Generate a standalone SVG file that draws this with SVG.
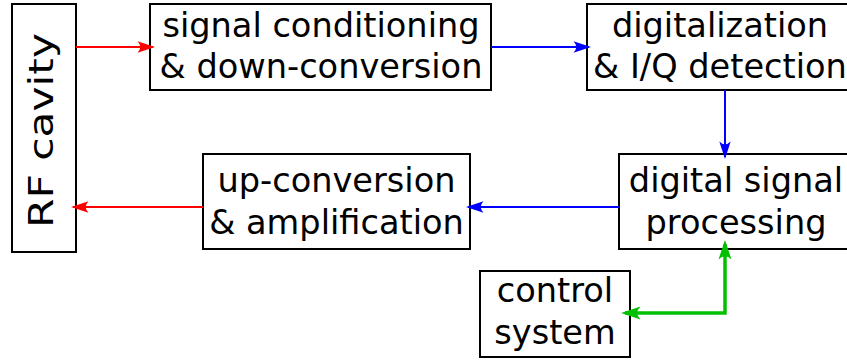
<svg xmlns="http://www.w3.org/2000/svg" width="847" height="360" viewBox="0 0 847 360">
<style>
.box{fill:#fff;stroke:#000;stroke-width:2}
.t{font-family:"DejaVu Sans",sans-serif;font-size:33.6px;fill:#000;text-anchor:middle}
.c{fill:none;stroke-width:2}
.g{fill:none;stroke-width:3.5}
</style>
<defs>
<marker id="ar" markerUnits="userSpaceOnUse" markerWidth="18" markerHeight="12" viewBox="0 0 18 12" refX="16" refY="6" orient="auto-start-reverse"><path d="M18,6 L0.5,0.3 Q6,6 0.5,11.7 Z" fill="#ff0000"/></marker>
<marker id="ab" markerUnits="userSpaceOnUse" markerWidth="18" markerHeight="12" viewBox="0 0 18 12" refX="16" refY="6" orient="auto-start-reverse"><path d="M18,6 L0.5,0.3 Q6,6 0.5,11.7 Z" fill="#0000ff"/></marker>
<marker id="ag" markerUnits="userSpaceOnUse" markerWidth="20" markerHeight="14" viewBox="0 0 20 14" refX="16" refY="7" orient="auto-start-reverse"><path d="M20,7 L0.5,0.5 Q7,7 0.5,13.5 Z" fill="#00c000"/></marker>
</defs>
<g id="rf"><rect class="box" x="12" y="4" width="64" height="248"/><text class="t" transform="translate(53,130.5) rotate(-90)" x="0" y="0" textLength="195" lengthAdjust="spacingAndGlyphs">RF cavity</text></g>
<g id="sc"><rect class="box" x="150" y="4" width="341" height="86"/><text class="t" x="321" y="36.5">signal conditioning</text><text class="t" x="321" y="78">&amp; down-conversion</text></g>
<g id="dig"><rect class="box" x="587" y="4" width="266" height="86"/><text class="t" x="720" y="36.5">digitalization</text><text class="t" x="720" y="78">&amp; I/Q detection</text></g>
<g id="dsp"><rect class="box" x="619" y="154" width="234" height="95"/><text class="t" x="736" y="191.5">digital signal</text><text class="t" x="736" y="234">processing</text></g>
<g id="up"><rect class="box" x="203" y="154" width="267" height="95"/><text class="t" x="336.5" y="191.5">up-conversion</text><text class="t" x="336.5" y="234">&amp; amplification</text></g>
<g id="ctrl"><rect class="box" x="480" y="271" width="150" height="86"/><text class="t" x="555" y="302">control</text><text class="t" x="555" y="344">system</text></g>
<g id="connectors">
<path class="c" stroke="#ff0000" d="M76,47 H153" marker-end="url(#ar)"/>
<path class="c" stroke="#0000ff" d="M491,47 H589" marker-end="url(#ab)"/>
<path class="c" stroke="#0000ff" d="M725,90 V157" marker-end="url(#ab)"/>
<path class="c" stroke="#0000ff" d="M619,207 H468" marker-end="url(#ab)"/>
<path class="c" stroke="#ff0000" d="M203,207 H73" marker-end="url(#ar)"/>
<path class="g" stroke="#00c000" d="M725,244 V313 H625" marker-start="url(#ag)" marker-end="url(#ag)"/>
</g>
</svg>
